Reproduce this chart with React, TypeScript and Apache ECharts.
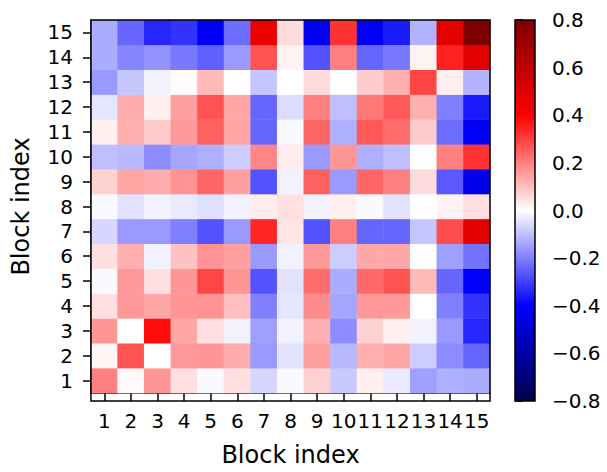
import React, { useEffect, useRef } from "react";
import * as echarts from "echarts";

const xCategories = ["1","2","3","4","5","6","7","8","9","10","11","12","13","14","15"];
const yCategories = ["1","2","3","4","5","6","7","8","9","10","11","12","13","14","15"];

// rows listed from block 1 (bottom) to block 15 (top); columns block 1..15
const row1  = [0.20, 0.01, 0.165, 0.05, -0.01, 0.05, -0.065, -0.01, 0.07, -0.085, 0.025, -0.035, -0.15, -0.125, -0.13];
const row2  = [0.015, 0.27, 0.0, 0.16, 0.165, 0.13, -0.16, -0.045, 0.15, -0.11, 0.125, 0.14, -0.08, -0.18, -0.24];
const row3  = [0.165, 0.0, 0.38, 0.14, 0.05, -0.02, -0.15, -0.02, 0.125, -0.18, 0.07, 0.025, -0.02, -0.16, -0.34];
const row4  = [0.05, 0.16, 0.14, 0.165, 0.17, 0.10, -0.20, -0.04, 0.18, -0.14, 0.16, 0.16, 0.0, -0.20, -0.32];
const row5  = [-0.01, 0.16, 0.05, 0.165, 0.29, 0.165, -0.27, -0.045, 0.23, -0.13, 0.235, 0.27, 0.11, -0.24, -0.40];
const row6  = [0.05, 0.125, -0.02, 0.095, 0.17, 0.15, -0.16, -0.02, 0.16, -0.08, 0.14, 0.14, 0.0, -0.15, -0.22];
const row7  = [-0.065, -0.16, -0.16, -0.20, -0.27, -0.16, 0.34, 0.04, -0.27, 0.20, -0.24, -0.24, -0.09, 0.28, 0.48];
const row8  = [-0.01, -0.045, -0.02, -0.035, -0.05, -0.02, 0.03, 0.05, -0.02, 0.025, -0.01, -0.045, 0.0, 0.02, 0.05];
const row9  = [0.07, 0.14, 0.13, 0.17, 0.24, 0.15, -0.27, -0.02, 0.25, -0.16, 0.24, 0.20, 0.055, -0.26, -0.44];
const row10 = [-0.10, -0.11, -0.18, -0.14, -0.125, -0.08, 0.19, 0.03, -0.16, 0.165, -0.125, -0.10, 0.0, 0.20, 0.32];
const row11 = [0.025, 0.125, 0.08, 0.16, 0.25, 0.14, -0.24, -0.01, 0.24, -0.125, 0.26, 0.23, 0.08, -0.23, -0.42];
const row12 = [-0.04, 0.13, 0.025, 0.15, 0.27, 0.14, -0.24, -0.055, 0.20, -0.10, 0.21, 0.26, 0.125, -0.20, -0.36];
const row13 = [-0.16, -0.09, -0.02, 0.005, 0.11, 0.0, -0.09, 0.0, 0.055, 0.0, 0.08, 0.125, 0.29, 0.025, -0.12];
const row14 = [-0.13, -0.19, -0.17, -0.21, -0.25, -0.16, 0.27, 0.02, -0.27, 0.20, -0.24, -0.21, 0.02, 0.35, 0.48];
const row15 = [-0.13, -0.24, -0.34, -0.32, -0.41, -0.23, 0.46, 0.055, -0.43, 0.32, -0.42, -0.36, -0.12, 0.48, 0.80];

const rows = [row1,row2,row3,row4,row5,row6,row7,row8,row9,row10,row11,row12,row13,row14,row15];

const vMin = -0.8;
const vMax = 0.8;
const seismic = ["#00004c", "#0000ff", "#ffffff", "#ff0000", "#7f0000"];

const GRID = { left: 91, top: 20, width: 399, height: 381 };
const CBAR = { left: 515, top: 20, width: 20, height: 381 };
const FONT = "DejaVu Sans";

export default function App() {
  const ref = useRef<HTMLDivElement>(null);
  useEffect(() => {
    if (!ref.current) return;
    const chart = echarts.init(ref.current, undefined, { renderer: "svg" });
    const data: [number, number, number][] = [];
    rows.forEach((r, yi) => r.forEach((v, xi) => data.push([xi, yi, v])));
    const fmt = (v: number) => {
      if (Math.abs(v) < 1e-9) return "0.0";
      return (v < 0 ? "\u2212" : "") + Math.abs(v).toFixed(1);
    };
    chart.setOption({
      animation: false,
      backgroundColor: "#ffffff",
      grid: [
        { ...GRID },
        { ...CBAR },
      ],
      xAxis: [
        {
          type: "category",
          gridIndex: 0,
          data: xCategories,
          name: "Block index",
          nameLocation: "middle",
          nameGap: 50,
          nameTextStyle: { fontFamily: FONT, fontSize: 24, color: "#000" },
          axisLine: { show: true, lineStyle: { color: "#000", width: 1.5 } },
          axisTick: { show: true, alignWithLabel: true, length: 8, lineStyle: { color: "#000", width: 1.5 } },
          axisLabel: { fontFamily: FONT, fontSize: 20, color: "#000", margin: 18, interval: 0 },
          splitLine: { show: false },
        },
        {
          type: "value",
          gridIndex: 1,
          show: false,
          min: 0,
          max: 1,
        },
      ],
      yAxis: [
        {
          type: "category",
          gridIndex: 0,
          data: yCategories,
          name: "Block index",
          nameLocation: "middle",
          nameGap: 58,
          nameTextStyle: { fontFamily: FONT, fontSize: 24, color: "#000" },
          axisLine: { show: true, lineStyle: { color: "#000", width: 1.5 } },
          axisTick: { show: true, alignWithLabel: true, length: 8, lineStyle: { color: "#000", width: 1.5 } },
          axisLabel: { fontFamily: FONT, fontSize: 20, color: "#000", margin: 18, interval: 0 },
          splitLine: { show: false },
        },
        {
          type: "value",
          gridIndex: 1,
          position: "right",
          min: vMin,
          max: vMax,
          interval: 0.2,
          axisLine: { show: false },
          axisTick: { show: true, length: 8, lineStyle: { color: "#000", width: 1.5 } },
          axisLabel: { fontFamily: FONT, fontSize: 20, color: "#000", margin: 17, formatter: fmt },
          splitLine: { show: false },
        },
      ],
      visualMap: {
        show: false,
        type: "continuous",
        min: vMin,
        max: vMax,
        seriesIndex: 0,
        inRange: { color: seismic },
      },
      series: [
        {
          type: "heatmap",
          xAxisIndex: 0,
          yAxisIndex: 0,
          data,
          itemStyle: { borderWidth: 0 },
          emphasis: { disabled: true },
        },
      ],
      graphic: [
        {
          type: "rect",
          shape: { x: GRID.left, y: GRID.top, width: GRID.width, height: GRID.height },
          style: { fill: "none", stroke: "#000", lineWidth: 1.5 },
          z: 100,
          silent: true,
        },
        {
          type: "rect",
          shape: { x: CBAR.left, y: CBAR.top, width: CBAR.width, height: CBAR.height },
          style: {
            fill: new echarts.graphic.LinearGradient(0, 0, 0, 1, [
              { offset: 0, color: seismic[4] },
              { offset: 0.25, color: seismic[3] },
              { offset: 0.5, color: seismic[2] },
              { offset: 0.75, color: seismic[1] },
              { offset: 1, color: seismic[0] },
            ]),
            stroke: "#000",
            lineWidth: 1.5,
          },
          z: 100,
          silent: true,
        },
      ],
    });
    return () => chart.dispose();
  }, []);
  return (
    <div
      ref={ref}
      style={{ position: "fixed", left: 0, top: 0, width: 607, height: 472 }}
    />
  );
}
